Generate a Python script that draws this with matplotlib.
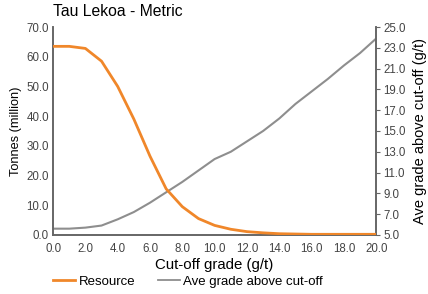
import matplotlib
matplotlib.use("Agg")
import matplotlib.pyplot as plt
from matplotlib.lines import Line2D

plt.rcParams['font.family'] = ['Liberation Sans', 'DejaVu Sans']

# cut-off grade (g/t)
cutoff = list(range(0, 21))
# resource tonnes (million)
resource = [63.5, 63.5, 62.8, 58.5, 50.0, 39.0, 26.5, 15.5, 9.5, 5.5, 3.2,
            1.9, 1.1, 0.7, 0.4, 0.3, 0.2, 0.2, 0.2, 0.2, 0.2]
# average grade above cut-off (g/t)
ave_grade = [5.6, 5.6, 5.7, 5.9, 6.5, 7.2, 8.1, 9.1, 10.1, 11.2, 12.3,
             13.0, 14.0, 15.0, 16.2, 17.6, 18.8, 20.0, 21.3, 22.5, 23.9]

x_ticks = [0, 2, 4, 6, 8, 10, 12, 14, 16, 18, 20]
left_ticks = [0, 10, 20, 30, 40, 50, 60, 70]
right_ticks = [5, 7, 9, 11, 13, 15, 17, 19, 21, 23, 25]

orange = '#f0872a'
grey = '#8e8e8e'
spine_col = '#666666'
tick_col = '#444444'

fig = plt.figure(figsize=(4.28, 2.94), dpi=100)
ax = fig.add_axes([0.124, 0.201, 0.755, 0.707])
ax2 = ax.twinx()

ax.plot(cutoff, resource, color=orange, lw=2, zorder=3)
ax2.plot(cutoff, ave_grade, color=grey, lw=1.5)
ax.set_zorder(ax2.get_zorder() + 1)
ax.patch.set_visible(False)

ax.set_xlim(0, 20)
ax.set_ylim(0, 70)
ax2.set_ylim(5, 25)
ax.set_xticks(x_ticks)
ax.set_yticks(left_ticks)
ax2.set_yticks(right_ticks)
ax.set_xticklabels([f"{v:.1f}" for v in x_ticks], fontsize=8.3, color=tick_col)
ax.set_yticklabels([f"{v:.1f}" for v in left_ticks], fontsize=8.3, color=tick_col)
ax2.set_yticklabels([f"{v:.1f}" for v in right_ticks], fontsize=8.3, color=tick_col)

ax.tick_params(axis='x', length=0, pad=6)
ax.tick_params(axis='y', length=0, pad=3)
ax2.tick_params(axis='y', length=3, width=0.8, color=spine_col, pad=2)

for a in (ax, ax2):
    a.spines['top'].set_visible(False)
    for s in ('left', 'right', 'bottom'):
        a.spines[s].set_color(spine_col)
        a.spines[s].set_linewidth(1.2)

ax.set_xlabel("Cut-off grade (g/t)", fontsize=10.8, labelpad=2)
ax.set_ylabel("Tonnes (million)", fontsize=9.2, labelpad=3)
ax2.set_ylabel("Ave grade above cut-off (g/t)", fontsize=10.5, labelpad=5)

fig.text(0.124, 0.962, "Tau Lekoa - Metric", fontsize=11.3, ha='left', va='center')

handles = [Line2D([], [], color=orange, lw=2), Line2D([], [], color=grey, lw=1.3)]
fig.legend(handles, ["Resource", "Ave grade above cut-off"], loc='center left',
           bbox_to_anchor=(0.124, 0.041), ncol=2, frameon=False, fontsize=9.5,
           handlelength=1.67, columnspacing=1.75, handletextpad=0.25,
           borderpad=0, borderaxespad=0)

fig.savefig("out.png", dpi=100)
